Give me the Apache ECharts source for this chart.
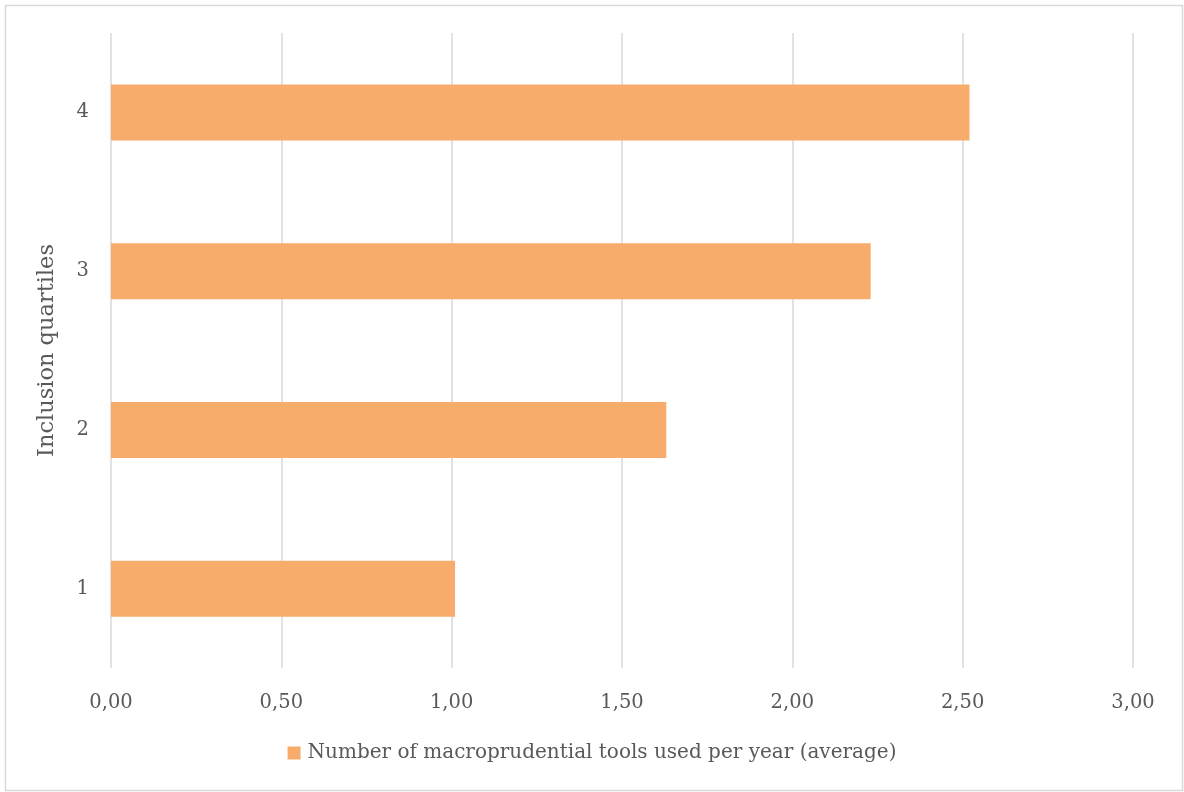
<!DOCTYPE html>
<html>
<head>
<meta charset="utf-8">
<script src="https://cdn.jsdelivr.net/npm/echarts@6/dist/echarts.min.js"></script>
<style>
  html, body { margin: 0; padding: 0; background: #fff; }
  #chart { width: 1184px; height: 792px; }
</style>
</head>
<body>
<div id="chart"></div>
<script>
// Quartiles of financial inclusion, bottom to top
const categories = ['1', '2', '3', '4'];
// Average number of macroprudential tools used per year
const toolsPerYear = [1.01, 1.63, 2.23, 2.52];
const seriesName = 'Number of macroprudential tools used per year (average)';
const axisTitle = 'Inclusion quartiles';

const FONT = '"DejaVu Serif", "Liberation Serif", serif';
const TEXT = '#595959';

const chart = echarts.init(document.getElementById('chart'), null, { renderer: 'canvas' });
chart.setOption({
  animation: false,
  backgroundColor: '#ffffff',
  textStyle: { fontFamily: FONT, color: TEXT },
  graphic: [{
    type: 'rect',
    left: 3, top: 3,
    shape: { width: 1177, height: 785 },
    style: { fill: 'none', stroke: '#d9d9d9', lineWidth: 1.5 },
    silent: true
  }],
  grid: { left: 111, right: 51, top: 33, bottom: 124, containLabel: false },
  legend: {
    bottom: 24,
    left: 'center',
    icon: 'rect',
    itemWidth: 13,
    itemHeight: 13,
    itemGap: 6,
    textStyle: { fontFamily: FONT, fontSize: 20, color: TEXT, padding: [0, 0, 0, 2] },
    data: [seriesName]
  },
  xAxis: {
    type: 'value',
    min: 0,
    max: 3,
    interval: 0.5,
    axisLine: { show: false },
    axisTick: { show: false },
    axisLabel: {
      margin: 25,
      fontFamily: FONT,
      fontSize: 19.5,
      color: TEXT,
      formatter: v => v.toFixed(2).replace('.', ',')
    },
    splitLine: { show: true, lineStyle: { color: '#d9d9d9', width: 1.5 } }
  },
  yAxis: {
    type: 'category',
    data: categories,
    name: axisTitle,
    nameLocation: 'middle',
    nameGap: 52,
    nameRotate: 90,
    nameTextStyle: { fontFamily: FONT, fontSize: 22.5, color: TEXT },
    axisLine: { show: false },
    axisTick: { show: false },
    axisLabel: { margin: 22, fontFamily: FONT, fontSize: 19.5, color: TEXT }
  },
  series: [{
    name: seriesName,
    type: 'bar',
    data: toolsPerYear,
    barWidth: 56,
    itemStyle: { color: '#f8ac6b' }
  }]
});
</script>
</body>
</html>
